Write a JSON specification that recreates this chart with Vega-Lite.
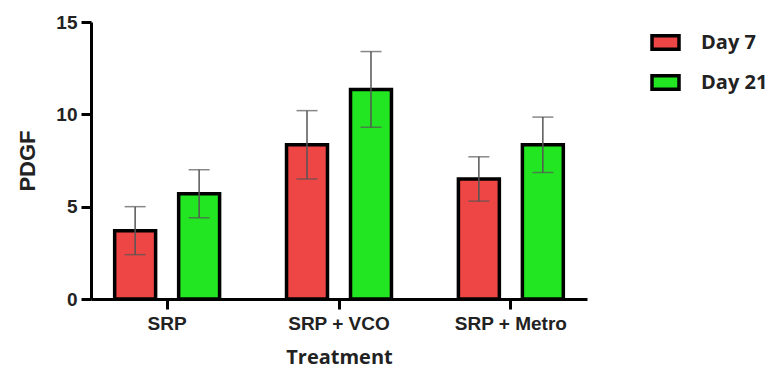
{
  "$schema": "https://vega.github.io/schema/vega-lite/v6.json",
  "autosize": "none",
  "width": 496,
  "height": 277,
  "padding": {"left": 91, "top": 22, "right": 188, "bottom": 72},
  "background": "white",
  "config": {"view": {"stroke": null}},
  "data": {"values": [
    {"Treatment": "SRP", "Day": "Day 7", "PDGF": 3.7, "err": 1.3},
    {"Treatment": "SRP", "Day": "Day 21", "PDGF": 5.7, "err": 1.3},
    {"Treatment": "SRP + VCO", "Day": "Day 7", "PDGF": 8.35, "err": 1.85},
    {"Treatment": "SRP + VCO", "Day": "Day 21", "PDGF": 11.35, "err": 2.05},
    {"Treatment": "SRP + Metro", "Day": "Day 7", "PDGF": 6.5, "err": 1.2},
    {"Treatment": "SRP + Metro", "Day": "Day 21", "PDGF": 8.35, "err": 1.5}
  ]},
  "encoding": {
    "x": {"field": "Treatment", "type": "nominal", "sort": ["SRP", "SRP + VCO", "SRP + Metro"],
      "scale": {"paddingInner": 0.114, "paddingOuter": 0},
      "axis": {"title": "Treatment", "labelAngle": 0, "labelFont": "Liberation Sans", "labelFontWeight": "bold", "labelFontSize": 19, "labelColor": "#222", "labelPadding": 5,
        "tickSize": 10, "tickWidth": 3, "tickColor": "black", "bandPosition": 0.5, "domainWidth": 3, "domainColor": "black",
        "titleFont": "Open Sans", "titleFontWeight": "bold", "titleFontSize": 20, "titleColor": "#222", "titlePadding": 14}},
    "xOffset": {"field": "Day", "type": "nominal", "sort": ["Day 7", "Day 21"], "scale": {"paddingInner": 0.36, "paddingOuter": 0.37}}
  },
  "layer": [
    {
      "mark": {"type": "bar", "stroke": "black", "strokeWidth": 3.5},
      "encoding": {
        "y": {"field": "PDGF", "type": "quantitative", "scale": {"domain": [0, 15], "nice": false},
          "axis": {"values": [0, 5, 10, 15], "grid": false, "title": "PDGF", "labelFont": "Liberation Sans", "labelFontWeight": "bold", "labelFontSize": 19, "labelColor": "#222", "labelPadding": 4,
            "tickSize": 10, "tickWidth": 3, "tickColor": "black", "domainWidth": 3, "domainColor": "black",
            "titleFont": "Liberation Sans", "titleFontWeight": "bold", "titleFontSize": 22, "titleColor": "#222", "titlePadding": 16}},
        "color": {"field": "Day", "type": "nominal", "sort": ["Day 7", "Day 21"],
          "scale": {"domain": ["Day 7", "Day 21"], "range": ["#EE4545", "#22E622"]},
          "legend": {"title": null, "orient": "none", "legendX": 559, "legendY": 5,
            "symbolType": "M-1,-0.5H1V0.5H-1Z", "symbolSize": 729, "symbolStrokeColor": "black", "symbolStrokeWidth": 3.5,
            "labelFont": "Open Sans", "labelFontWeight": "bold", "labelFontSize": 20, "labelColor": "#222", "labelOffset": 20, "rowPadding": 10}}
      }
    },
    {
      "mark": {"type": "errorbar", "ticks": {"size": 21, "thickness": 1.5, "color": "#555"}, "rule": {"color": "#555", "strokeWidth": 1.5}},
      "encoding": {
        "y": {"field": "PDGF", "type": "quantitative"},
        "yError": {"field": "err"}
      }
    }
  ]
}
